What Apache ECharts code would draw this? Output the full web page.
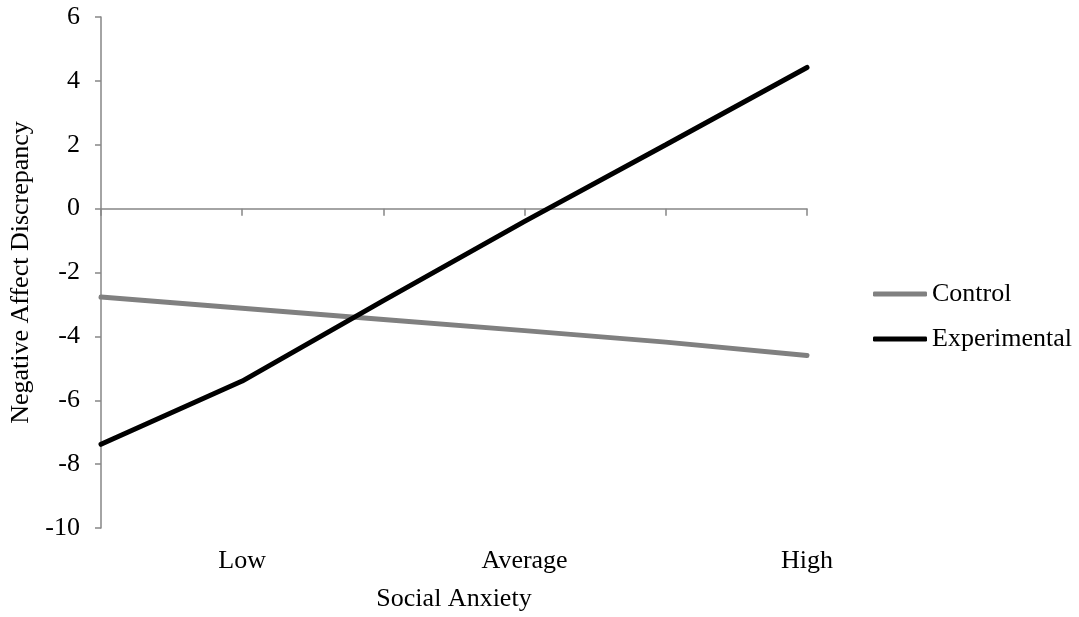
<!DOCTYPE html>
<html>
<head>
<meta charset="utf-8">
<script src="https://cdn.jsdelivr.net/npm/echarts@6/dist/echarts.min.js"></script>
<style>
	html, body { margin: 0; padding: 0; background: #fff; }
	#chart { width: 1079px; height: 617px; }
</style>
</head>
<body>
<div id="chart"></div>
<script>
// categories: blank slots sit between the labelled levels
var categories = ['', 'Low', '', 'Average', '', 'High'];
var controlValues = [-2.77, -3.12, -3.47, -3.82, -4.18, -4.6];
var experimentalValues = [-7.38, -5.4, -2.88, -0.4, 2.0, 4.42];
var yTicks = { min: -10, max: 6, interval: 2 };

var font = 'Liberation Serif, Times New Roman, serif';
var axisColor = '#868686';

var chart = echarts.init(document.getElementById('chart'));
chart.setOption({
	backgroundColor: '#fff',
	animation: false,
	grid: { left: 101, right: 272, top: 17, bottom: 88 },
	legend: {
		orient: 'vertical',
		left: 873,
		top: 281,
		padding: 0,
		icon: 'roundRect',
		itemWidth: 54,
		itemHeight: 5,
		itemGap: 19,
		textStyle: { fontFamily: font, fontSize: 26, lineHeight: 26, color: '#000' },
		data: ['Control', 'Experimental']
	},
	xAxis: [
		{
			// zero line with ticks
			type: 'category',
			position: 'bottom',
			data: categories,
			boundaryGap: false,
			axisLine: { onZero: true, lineStyle: { color: axisColor, width: 1.5 } },
			axisTick: { show: true, length: 7, interval: 0, lineStyle: { color: axisColor, width: 1.5 } },
			axisLabel: { show: false },
			splitLine: { show: false }
		},
		{
			// labels at the bottom of the plot
			type: 'category',
			position: 'bottom',
			data: categories,
			boundaryGap: false,
			axisLine: { show: false, onZero: false },
			axisTick: { show: false },
			axisLabel: { interval: 0, margin: 20, fontFamily: font, fontSize: 26, color: '#000' },
			splitLine: { show: false },
			name: 'Social Anxiety',
			nameLocation: 'middle',
			nameGap: 58,
			nameTextStyle: { fontFamily: font, fontSize: 26, color: '#000' }
		}
	],
	yAxis: {
		type: 'value',
		min: yTicks.min,
		max: yTicks.max,
		interval: yTicks.interval,
		axisLine: { show: true, lineStyle: { color: axisColor, width: 1.5 } },
		axisTick: { show: true, length: 6, lineStyle: { color: axisColor, width: 1.5 } },
		axisLabel: { margin: 21, fontFamily: font, fontSize: 26, color: '#000' },
		splitLine: { show: false },
		name: 'Negative Affect Discrepancy',
		nameLocation: 'middle',
		nameRotate: 90,
		nameGap: 64,
		nameTextStyle: { fontFamily: font, fontSize: 26, color: '#000' }
	},
	series: [
		{
			name: 'Control',
			type: 'line',
			xAxisIndex: 0,
			data: controlValues,
			symbol: 'none',
			itemStyle: { color: '#808080' },
			lineStyle: { color: '#808080', width: 5, cap: 'round' }
		},
		{
			name: 'Experimental',
			type: 'line',
			xAxisIndex: 0,
			data: experimentalValues,
			symbol: 'none',
			itemStyle: { color: '#000' },
			lineStyle: { color: '#000', width: 5, cap: 'round' }
		}
	]
});
</script>
</body>
</html>
